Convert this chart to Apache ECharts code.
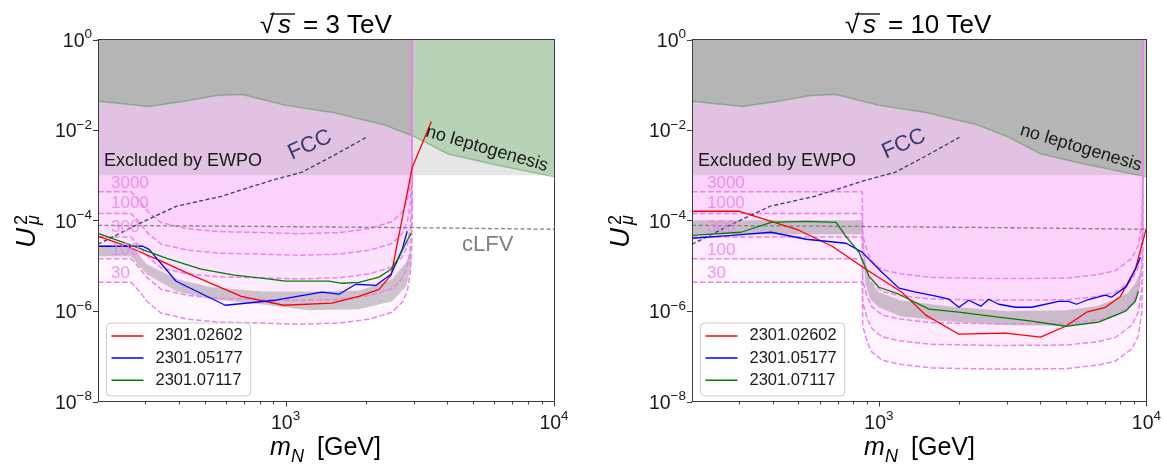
<!DOCTYPE html>
<html>
<head>
<meta charset="utf-8">
<title>Heavy neutral lepton reach at a muon collider</title>
<script src="https://cdn.jsdelivr.net/npm/echarts@6.0.0/dist/echarts.min.js"></script>
<style>
  html, body { margin: 0; padding: 0; background: #ffffff; }
  #chart { width: 1164px; height: 464px; }
</style>
</head>
<body>
<div id="chart"></div>
<script>
// ---------------- axis ranges and ticks ----------------
const X_MIN = 200, X_MAX = 10000, Y_MIN = 1e-8, Y_MAX = 1;
const X_MAJOR_TICKS = [1000, 10000];
const X_MINOR_TICKS = [300, 400, 500, 600, 700, 800, 900, 2000, 3000, 4000, 5000, 6000, 7000, 8000, 9000];
const Y_MAJOR_TICKS = [1e-8, 1e-6, 1e-4, 1e-2, 1];

const LEGEND_NAMES = ['2301.02602', '2301.05177', '2301.07117'];
const EVENT_LEVELS = ['30', '100', '300', '1000', '3000'];
const ENERGIES = ['3', '10'];

// ---------------- curves shared by both panels ----------------
const EWPO_LIMIT = 1e-3;
const mLepto = [200, 310, 420, 555, 690, 1000, 1490, 2300, 3000, 4000, 5800, 10000];
const uLepto = [4.3e-2, 3.3e-2, 4.3e-2, 5.8e-2, 6.1e-2, 3.5e-2, 2.45e-2, 1.33e-2, 7.3e-3, 3.0e-3, 1.8e-3, 9.2e-4];
const mFCC = [200, 281, 391, 576, 886, 1148, 1487, 2000];
const uFCC = [2.98e-5, 8.2e-5, 2.06e-4, 3.42e-4, 7.7e-4, 1.16e-3, 2.6e-3, 6.9e-3];
const mCLFV = [200, 800, 3300, 10000];
const uCLFV = [7.8e-5, 7.4e-5, 6.9e-5, 6.4e-5];

// ---------------- sqrt(s) = 3 TeV ----------------
// event-count contours
const m3Contour = [200, 265, 281, 307, 344, 433, 561, 813, 1119, 1580, 2048, 2495, 2719, 2838, 2911, 2950, 2963, 2966];
const u3Ev30   = [4.3e-6, 4.3e-6, 3.0e-6, 1.56e-6, 8.9e-7, 6.6e-7, 5.7e-7, 5.4e-7, 5.1e-7, 5.4e-7, 6.6e-7, 9.4e-7, 1.56e-6, 2.7e-6, 6.5e-6, 2.3e-5, 2.9e-4, 1];
const u3Ev100  = [1.43e-5, 1.43e-5, 1.0e-5, 5.2e-6, 3.0e-6, 2.2e-6, 1.9e-6, 1.8e-6, 1.7e-6, 1.8e-6, 2.2e-6, 3.1e-6, 5.2e-6, 9.0e-6, 2.2e-5, 7.7e-5, 9.7e-4, 1];
const u3Ev300  = [4.3e-5, 4.3e-5, 3.0e-5, 1.56e-5, 8.9e-6, 6.6e-6, 5.7e-6, 5.4e-6, 5.1e-6, 5.4e-6, 6.6e-6, 9.4e-6, 1.56e-5, 2.7e-5, 6.5e-5, 2.3e-4, 2.9e-3, 1];
const u3Ev1000 = [1.43e-4, 1.43e-4, 1.0e-4, 5.2e-5, 3.0e-5, 2.2e-5, 1.9e-5, 1.8e-5, 1.7e-5, 1.8e-5, 2.2e-5, 3.1e-5, 5.2e-5, 9.0e-5, 2.2e-4, 7.7e-4, 9.7e-3, 1];
const u3Ev3000 = [4.3e-4, 4.3e-4, 3.0e-4, 1.56e-4, 8.9e-5, 6.6e-5, 5.7e-5, 5.4e-5, 5.1e-5, 5.4e-5, 6.6e-5, 9.4e-5, 1.56e-4, 2.7e-4, 6.5e-4, 2.3e-3, 2.9e-2, 1];
// grey band
const m3Band   = [200, 265, 304, 394, 528, 813, 1219, 1877, 2495, 2812, 2935];
const u3BandHi = [2.84e-5, 2.84e-5, 1.08e-5, 5.0e-6, 3.35e-6, 2.7e-6, 2.7e-6, 2.8e-6, 5.0e-6, 1.19e-5, 2.3e-5];
const u3BandLo = [1.62e-5, 1.62e-5, 6.5e-6, 2.7e-6, 1.82e-6, 1.41e-6, 1.04e-6, 1.09e-6, 1.64e-6, 3.5e-6, 9.7e-6];
// literature curves
const m3Red   = [200, 256, 344, 456, 684, 983, 1487, 1876, 2229, 2472, 2963, 3493];
const u3Red   = [4.5e-5, 2.7e-5, 1.26e-5, 5.9e-6, 2.1e-6, 1.34e-6, 1.49e-6, 2.1e-6, 3.0e-6, 6.2e-6, 1.49e-3, 1.55e-2];
const m3Blue  = [200, 294, 310, 391, 596, 918, 1365, 1580, 1828, 2173, 2472, 2719, 2838];
const u3Blue  = [2.7e-5, 2.7e-5, 2.3e-5, 4.55e-6, 1.34e-6, 1.73e-6, 2.6e-6, 2.35e-6, 3.9e-6, 3.7e-6, 6.5e-6, 2.3e-5, 5.8e-5];
const m3Green = [200, 256, 304, 361, 484, 644, 813, 1000, 1449, 1622, 1876, 2229, 2472, 2648, 2814, 2939];
const u3Green = [5.2e-5, 3.1e-5, 2.1e-5, 1.46e-5, 8.4e-6, 6.2e-6, 5.3e-6, 4.55e-6, 4.55e-6, 4.1e-6, 4.3e-6, 5.6e-6, 8.4e-6, 1.54e-5, 3.3e-5, 5.2e-5];

// ---------------- sqrt(s) = 10 TeV ----------------
const m10Contour = [200, 866, 870, 904, 942, 1026, 1188, 1577, 2800, 5000, 6600, 7650, 8800, 9330, 9610, 9690, 9700];
const u10Ev30   = [4.3e-6, 4.3e-6, 4.6e-7, 2.05e-7, 1.23e-7, 8.2e-8, 6.7e-8, 5.5e-8, 5.2e-8, 5.3e-8, 6.4e-8, 7.8e-8, 1.43e-7, 2.8e-7, 9.3e-7, 8.4e-6, 1];
const u10Ev100  = [1.43e-5, 1.43e-5, 1.53e-6, 6.8e-7, 4.1e-7, 2.7e-7, 2.2e-7, 1.83e-7, 1.73e-7, 1.77e-7, 2.1e-7, 2.6e-7, 4.8e-7, 9.3e-7, 3.1e-6, 2.8e-5, 1];
const u10Ev300  = [4.3e-5, 4.3e-5, 4.6e-6, 2.05e-6, 1.23e-6, 8.2e-7, 6.7e-7, 5.5e-7, 5.2e-7, 5.3e-7, 6.4e-7, 7.8e-7, 1.43e-6, 2.8e-6, 9.3e-6, 8.4e-5, 1];
const u10Ev1000 = [1.43e-4, 1.43e-4, 1.53e-5, 6.8e-6, 4.1e-6, 2.7e-6, 2.2e-6, 1.83e-6, 1.73e-6, 1.77e-6, 2.1e-6, 2.6e-6, 4.8e-6, 9.3e-6, 3.1e-5, 2.8e-4, 1];
const u10Ev3000 = [4.3e-4, 4.3e-4, 4.6e-5, 2.05e-5, 1.23e-5, 8.2e-6, 6.7e-6, 5.5e-6, 5.2e-6, 5.3e-6, 6.4e-6, 7.8e-6, 1.43e-5, 2.8e-5, 9.3e-5, 8.4e-4, 1];
const m10Band   = [200, 864, 880, 890, 930, 1000, 1200, 1800, 3000, 5000, 6500, 7500, 8500, 9100, 9400, 9550];
const u10BandHi = [1.01e-4, 1.01e-4, 2.98e-5, 1.26e-5, 4.3e-6, 2.6e-6, 1.73e-6, 1.28e-6, 9.9e-7, 1.04e-6, 1.28e-6, 1.73e-6, 2.47e-6, 4.11e-6, 6.49e-6, 9.27e-6];
const u10BandLo = [4.96e-5, 4.96e-5, 1.26e-5, 3.91e-6, 1.82e-6, 1.21e-6, 7.7e-7, 5.95e-7, 4.86e-7, 4.7e-7, 5.38e-7, 7.3e-7, 1.10e-6, 1.64e-6, 3.03e-6, 6.49e-6];
const m10Red   = [200, 301, 502, 668, 894, 1218, 1497, 1991, 2978, 4020, 4987, 5976, 7027, 7998, 9091, 9990];
const u10Red   = [1.6e-4, 1.6e-4, 6.1e-5, 2.7e-5, 8.4e-6, 2.6e-6, 8.1e-7, 3.07e-7, 3.24e-7, 2.64e-7, 4.6e-7, 9.4e-7, 1.21e-6, 2.1e-6, 8.4e-6, 6.7e-5];
const m10Blue  = [200, 282, 395, 534, 753, 865, 1026, 1188, 1374, 1633, 1825, 1991, 2168, 2404, 2573, 2804, 3246, 3724, 4697, 5118, 5483, 5976, 7027, 7402, 8420, 9091, 9501];
const u10Blue  = [4.05e-5, 4.7e-5, 5.5e-5, 3.85e-5, 3.14e-5, 2.0e-5, 7.2e-6, 3.2e-6, 2.6e-6, 2.12e-6, 1.82e-6, 1.21e-6, 1.73e-6, 1.28e-6, 1.82e-6, 1.41e-6, 1.21e-6, 1.21e-6, 1.64e-6, 1.64e-6, 1.41e-6, 1.73e-6, 2.23e-6, 2.02e-6, 3.5e-6, 8.4e-6, 1.54e-5];
const m10Green = [200, 305, 395, 534, 692, 751, 842, 918, 1000, 1188, 1538, 1991, 2804, 3724, 4987, 6622, 8356, 9091, 9333];
const u10Green = [4.7e-5, 5.5e-5, 9.1e-5, 9.6e-5, 9.1e-5, 4.5e-5, 1.99e-5, 5.9e-6, 3.35e-6, 2.35e-6, 1.1e-6, 9.4e-7, 7.3e-7, 6.0e-7, 4.6e-7, 5.7e-7, 9.9e-7, 1.64e-6, 2.74e-6];

// ---------------- styling ----------------
const FONT = "'Liberation Sans', Arial, Helvetica, sans-serif";
const AXIS_COLOR = '#3c3c3c';
const TEXT_COLOR = '#1a1a1a';
const PINK = 'rgb(238,130,238)';
const LINE_COLORS = ['#ff0000', '#0000ff', '#008000'];

const GRIDS = [
  { left: 98, top: 39.5, width: 456, height: 362 },
  { left: 692, top: 39.5, width: 456, height: 362 }
];

const zip = (xs, ys) => xs.map((x, i) => [x, ys[i]]);

const panels = [
  {
    contourM: m3Contour,
    contours: [u3Ev30, u3Ev100, u3Ev300, u3Ev1000, u3Ev3000],
    band: [m3Band, u3BandHi, u3BandLo],
    lines: [[m3Red, u3Red], [m3Blue, u3Blue], [m3Green, u3Green]]
  },
  {
    contourM: m10Contour,
    contours: [u10Ev30, u10Ev100, u10Ev300, u10Ev1000, u10Ev3000],
    band: [m10Band, u10BandHi, u10BandLo],
    lines: [[m10Red, u10Red], [m10Blue, u10Blue], [m10Green, u10Green]]
  }
];

// ---------------- axes ----------------
function expLabel(v) {
  const lg = Math.log10(v);
  const e = Math.round(lg);
  if (Math.abs(lg - e) > 1e-6) return '';
  return e;
}

const richTick = {
  b: { fontSize: 19.5, fontFamily: FONT, color: TEXT_COLOR, lineHeight: 24, verticalAlign: 'bottom' },
  s: { fontSize: 13.5, fontFamily: FONT, color: TEXT_COLOR, lineHeight: 14, verticalAlign: 'top' }
};

const xAxes = [], yAxes = [];
GRIDS.forEach((g, gi) => {
  const common = {
    type: 'log', logBase: 10, gridIndex: gi, z: 8,
    splitLine: { show: false }, axisTick: { show: false }, minorTick: { show: false },
    axisLine: { show: true, onZero: false, lineStyle: { color: AXIS_COLOR, width: 1 } }
  };
  xAxes.push({
    ...common, min: X_MIN, max: X_MAX, position: 'bottom',
    axisLabel: {
      margin: 8, rich: richTick,
      formatter: v => { const e = expLabel(v); return e === '' ? '' : `{b|10}{s|${e}}`; }
    }
  });
  xAxes.push({ ...common, min: X_MIN, max: X_MAX, position: 'top', axisLabel: { show: false } });
  yAxes.push({
    ...common, min: Y_MIN, max: Y_MAX, position: 'left',
    axisLabel: {
      margin: 6, rich: richTick,
      formatter: v => {
        const e = expLabel(v);
        if (e === '' || e % 2 !== 0) return '';
        return `{b|10}{s|${e < 0 ? '\u2212' + (-e) : e}}`;
      }
    }
  });
  yAxes.push({ ...common, min: Y_MIN, max: Y_MAX, position: 'right', axisLabel: { show: false } });
});

// ---------------- series builders ----------------
function areaAbove(gi, name, xs, ys, color, opacity, line, z) {
  return {
    type: 'line', name, xAxisIndex: 2 * gi, yAxisIndex: 2 * gi, data: zip(xs, ys),
    symbol: 'none', silent: true, z,
    lineStyle: line || { width: 0, opacity: 0 },
    areaStyle: { origin: 'end', color, opacity }
  };
}

function plainLine(gi, name, xs, ys, color, width, type, z) {
  return {
    type: 'line', name, xAxisIndex: 2 * gi, yAxisIndex: 2 * gi, data: zip(xs, ys),
    symbol: 'none', silent: true, z, color,
    lineStyle: { color, width, type }
  };
}

function bandSeries(gi, xs, hi, lo) {
  return {
    type: 'custom', name: 'signal band', xAxisIndex: 2 * gi, yAxisIndex: 2 * gi, z: 2, silent: true,
    data: [[xs[0], hi[0]]],
    renderItem: (params, api) => {
      const pts = xs.map((x, i) => api.coord([x, hi[i]]));
      for (let i = xs.length - 1; i >= 0; i--) pts.push(api.coord([xs[i], lo[i]]));
      return { type: 'polygon', shape: { points: pts }, style: { fill: 'rgba(128,128,128,0.4)' } };
    }
  };
}

function tickSeries(gi, values, axis, len) {
  return {
    type: 'custom', name: 'ticks', xAxisIndex: 2 * gi, yAxisIndex: 2 * gi, z: 9, silent: true, clip: false,
    data: values.map(v => (axis === 'x' ? [v, Y_MIN] : [X_MIN, v])),
    renderItem: (params, api) => {
      const p = api.coord([api.value(0), api.value(1)]);
      let shape;
      if (axis === 'x') {
        const x = Math.round(p[0]) + 0.5;
        shape = { x1: x, y1: p[1], x2: x, y2: p[1] + len };
      } else {
        const y = Math.round(p[1]) + 0.5;
        shape = { x1: p[0], y1: y, x2: p[0] - len, y2: y };
      }
      return { type: 'line', shape, style: { stroke: AXIS_COLOR, lineWidth: 1 } };
    }
  };
}

const series = [];
panels.forEach((p, gi) => {
  // event-count contours: each one shades the region above it
  p.contours.forEach((u, k) => {
    series.push(areaAbove(gi, EVENT_LEVELS[k] + ' events area', p.contourM, u, PINK, 0.08, null, 1));
  });
  series.push(bandSeries(gi, p.band[0], p.band[1], p.band[2]));
  // electroweak precision exclusion
  series.push(areaAbove(gi, 'EWPO', [X_MIN, X_MAX], [EWPO_LIMIT, EWPO_LIMIT], 'rgb(128,128,128)', 0.2, null, 3));
  // no-leptogenesis region
  series.push(areaAbove(gi, 'no leptogenesis', mLepto, uLepto, 'rgb(0,128,0)', 0.2,
    { color: 'rgba(0,128,0,0.3)', width: 1.5 }, 4));
  // dashed contour outlines
  p.contours.forEach((u, k) => {
    series.push(plainLine(gi, EVENT_LEVELS[k] + ' events', p.contourM, u, PINK, 1.5, [5.5, 2.5], 5));
  });
  series.push(plainLine(gi, 'cLFV', mCLFV, uCLFV, '#808080', 1.3, [4, 2.5], 5));
  series.push(plainLine(gi, 'FCC', mFCC, uFCC, '#3a3a6e', 1.3, [4, 2.5], 5));
  p.lines.forEach((l, k) => {
    series.push(plainLine(gi, LEGEND_NAMES[k], l[0], l[1], LINE_COLORS[k], 1.3, 'solid', 6));
  });
  series.push(tickSeries(gi, X_MAJOR_TICKS, 'x', 5));
  series.push(tickSeries(gi, X_MINOR_TICKS, 'x', 3));
  series.push(tickSeries(gi, Y_MAJOR_TICKS, 'y', 5));
});

// ---------------- annotations ----------------
function text(x, y, str, size, color, extra) {
  extra = extra || {};
  return {
    type: 'text', x, y, rotation: extra.rotation || 0, silent: true, z: 20,
    style: {
      text: str, fontSize: size, fontFamily: FONT, fill: color,
      fontStyle: extra.italic ? 'italic' : 'normal',
      align: extra.align || 'left', verticalAlign: 'middle',
      opacity: extra.opacity == null ? 1 : extra.opacity
    }
  };
}

function panelTitle(x0, energy) {
  return [
    text(x0, 26, '\u221a', 26, '#000'),
    text(x0 + 18, 26, 's', 26, '#000', { italic: true }),
    { type: 'line', silent: true, z: 20, shape: { x1: x0 + 10, y1: 14, x2: x0 + 35, y2: 14 }, style: { stroke: '#000', lineWidth: 1.3 } },
    text(x0 + 43, 26, '= ' + energy + ' TeV', 26, '#000')
  ];
}

function xName(x0) {
  return [
    text(x0, 448.5, 'm', 25, '#000', { italic: true }),
    text(x0 + 21, 456.5, 'N', 18, '#000', { italic: true }),
    text(x0 + 47, 448.5, '[GeV]', 25, '#000')
  ];
}

function yName(cx) {
  return {
    type: 'group', x: cx, y: 248, rotation: Math.PI / 2, silent: true, z: 20,
    children: [
      text(0, 0, 'U', 28, '#000', { italic: true }),
      text(23, -5.5, '2', 18, '#000'),
      text(23, 6, '\u03bc', 18, '#000', { italic: true })
    ]
  };
}

function contourLabels(x0) {
  const ys = [273.5, 250, 227.5, 203.5, 183];
  return EVENT_LEVELS.map((lv, k) => text(x0, ys[k], lv, 17, PINK, { opacity: 0.85 }));
}

const graphics = [].concat(
  panelTitle(260, ENERGIES[0]), panelTitle(845, ENERGIES[1]),
  xName(270), xName(864),
  [yName(27.5), yName(621.5)],
  contourLabels(111), contourLabels(707),
  [
    text(104, 161, 'Excluded by EWPO', 18, TEXT_COLOR),
    text(698, 161, 'Excluded by EWPO', 18, TEXT_COLOR),
    text(310, 145, 'FCC', 22, '#3a3a6e', { align: 'center', rotation: 0.42 }),
    text(904, 144, 'FCC', 22, '#3a3a6e', { align: 'center', rotation: 0.42 }),
    text(487, 149, 'no leptogenesis', 18, TEXT_COLOR, { align: 'center', rotation: -0.28 }),
    text(1081, 148, 'no leptogenesis', 18, TEXT_COLOR, { align: 'center', rotation: -0.29 }),
    text(462, 245, 'cLFV', 22, '#808080')
  ]
);

function legendAt(left) {
  return {
    data: LEGEND_NAMES, left, top: 323, orient: 'vertical', selectedMode: false,
    icon: 'rect', itemWidth: 32, itemHeight: 1.5, itemGap: 5.2,
    padding: [4.4, 8, 7, 5],
    backgroundColor: 'rgba(255,255,255,0.8)', borderColor: '#cccccc', borderWidth: 1, borderRadius: 4,
    textStyle: { fontFamily: FONT, fontSize: 16.5, color: TEXT_COLOR, lineHeight: 16.5, padding: [0, 0, 0, 7] },
    z: 12
  };
}

const chart = echarts.init(document.getElementById('chart'), null, { renderer: 'canvas' });
chart.setOption({
  animation: false,
  backgroundColor: '#ffffff',
  textStyle: { fontFamily: FONT },
  grid: GRIDS.map(g => ({ ...g, containLabel: false, show: false })),
  xAxis: xAxes,
  yAxis: yAxes,
  legend: [legendAt(106.5), legendAt(700.5)],
  series,
  graphic: graphics
});
</script>
</body>
</html>
